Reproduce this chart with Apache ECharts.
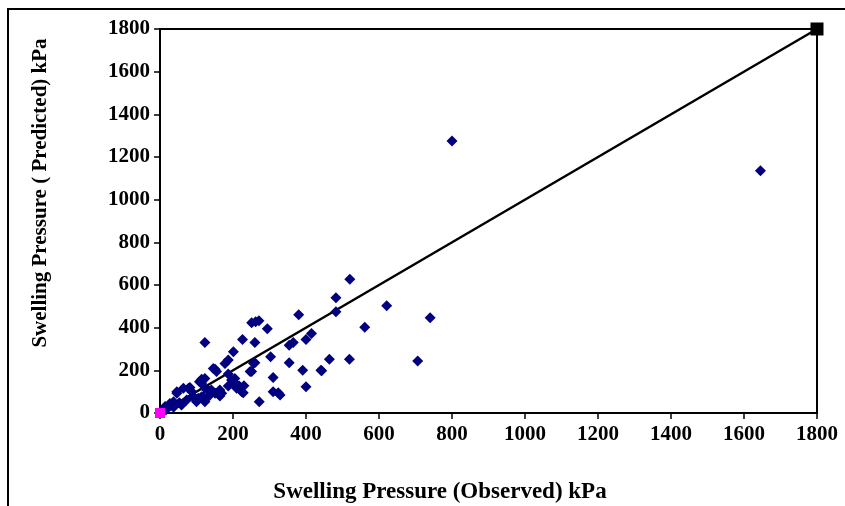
<!DOCTYPE html>
<html>
<head>
<meta charset="utf-8">
<script src="https://cdn.jsdelivr.net/npm/echarts@6/dist/echarts.min.js"></script>
<style>html,body{margin:0;padding:0;background:#fff;}#c{width:845px;height:506px;}</style>
</head>
<body>
<div id="c"></div>
<script>
// Observed / predicted swelling pressure (kPa)
var observed = [800,1645,520,482,482,621,740,561,464,519,706,443,
  380,251,262,271,294,226,260,354,365,400,415,
  303,260,251,354,391,441,310,400,230,228,310,324,329,272,
  123,201,187,178,151,256,247,146,155,
  114,108,187,196,201,205,123,114,
  164,169,132,137,123,119,
  46,64,82,91,105,100,73,59,53,27,23,37,16,
  187,205,217,210,224,141,151,160,164,123,
  14,27,37,46,78,87,96,114,123,8];
var predicted = [1275,1135,627,540,475,503,447,402,252,252,244,198,
  461,423,428,432,395,345,330,317,330,345,373,
  264,236,194,236,200,200,166,123,128,95,100,95,84,53,
  330,287,248,232,205,233,194,209,194,
  158,147,183,155,139,162,162,139,
  108,92,108,84,61,76,
  100,116,120,76,69,53,61,37,48,37,27,27,14,
  127,142,127,116,100,108,92,100,80,116,
  30,45,53,92,116,100,69,76,53,9];
var lineX = [0, 1800];
var lineY = [0, 1800];
var xTitle = 'Swelling Pressure (Observed) kPa';
var yTitle = 'Swelling Pressure ( Predicted) kPa';

var pts = observed.map(function(v,i){return [v, predicted[i]];});
var chart = echarts.init(document.getElementById('c'), null, {renderer:'canvas'});
var labelFont = {fontFamily:'Liberation Serif', fontWeight:'bold', fontSize:21, color:'#000',
  formatter:function(v){return String(v);}};
chart.setOption({
  animation:false,
  backgroundColor:'#fff',
  grid:{left:160, top:29, width:657, height:384, outerBoundsMode:'none', containLabel:false,
    show:true, borderColor:'#000', borderWidth:2, backgroundColor:'transparent'},
  xAxis:{type:'value', min:0, max:1800, interval:200,
    axisLine:{show:true, lineStyle:{color:'#000', width:2}},
    axisTick:{show:true, inside:false, length:6, lineStyle:{color:'#000', width:1.5}},
    axisLabel:Object.assign({margin:11}, labelFont),
    splitLine:{show:false}},
  yAxis:{type:'value', min:0, max:1800, interval:200,
    axisLine:{show:true, lineStyle:{color:'#000', width:2}},
    axisTick:{show:true, inside:false, length:6, lineStyle:{color:'#000', width:1.5}},
    axisLabel:Object.assign({margin:10}, labelFont),
    splitLine:{show:false}},
  graphic:[
    {type:'line', shape:{x1:7, y1:9, x2:845, y2:9}, style:{stroke:'#000', lineWidth:2}, z:100},
    {type:'line', shape:{x1:8, y1:8, x2:8, y2:506}, style:{stroke:'#000', lineWidth:2}, z:100},
    {type:'text', x:41, y:193, rotation:Math.PI/2,
      style:{text:yTitle, fill:'#000', font:'bold 21px "Liberation Serif"', textAlign:'center', textVerticalAlign:'middle'}, z:100},
    {type:'text', x:440, y:492,
      style:{text:xTitle, fill:'#000', font:'bold 23px "Liberation Serif"', textAlign:'center', textVerticalAlign:'middle'}, z:100}
  ],
  series:[
    {type:'line', data:[[lineX[0],lineY[0]],[lineX[1],lineY[1]]], symbol:'none', lineStyle:{color:'#000', width:2.5}, z:2},
    {type:'scatter', data:pts, symbol:'diamond', symbolSize:11, itemStyle:{color:'#000080', opacity:1}, z:3},
    {type:'scatter', data:[[lineX[1],lineY[1]]], symbol:'rect', symbolSize:13, itemStyle:{color:'#000', opacity:1}, z:4},
    {type:'scatter', data:[[lineX[0],lineY[0]]], symbol:'rect', symbolSize:10, itemStyle:{color:'#ff00ff', opacity:1}, z:4}
  ]
});
</script>
</body>
</html>
